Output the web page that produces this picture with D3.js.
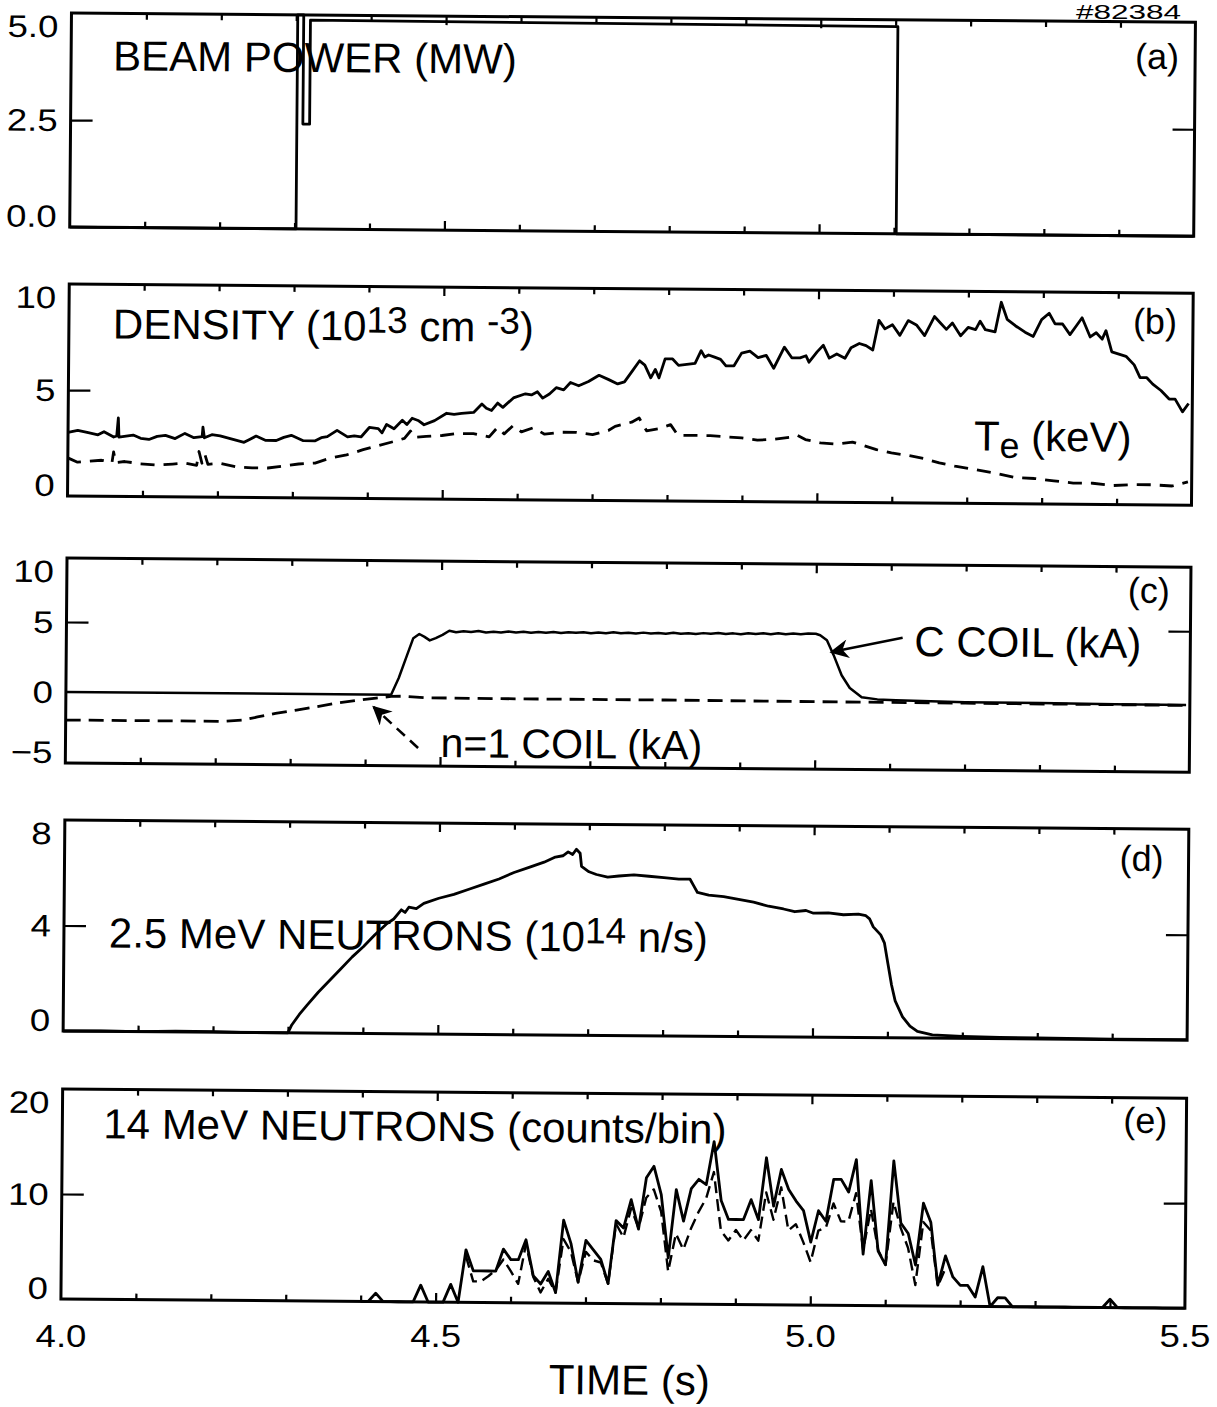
<!DOCTYPE html>
<html>
<head>
<meta charset="utf-8">
<script src="https://cdn.jsdelivr.net/npm/d3@7"></script>
<style>
  html, body { margin: 0; padding: 0; background: #fff; }
  svg { display: block; }
  text { font-family: "Liberation Sans", Arial, Helvetica, sans-serif; fill: #000; }
</style>
</head>
<body>
<svg id="chart" width="1217" height="1407"></svg>
<script>
// ---------------- shot #82384 time traces ----------------

// time axis
const timeTicks = [4.0, 4.5, 5.0, 5.5];
const timeTickLabels = ["4.0", "4.5", "5.0", "5.5"];

// (a) neutral beam power, MW (stepwise)
const beamTime  = [4.000, 4.302, 4.302, 4.310, 4.310, 4.319, 4.319, 5.103, 5.103, 5.500];
const beamPower = [0, 0, 5.0, 5.0, 2.45, 2.45, 4.88, 4.84, 0, 0];

// (b) line density, 1e13 cm^-3
const densityTime = [4.000,4.013,4.027,4.040,4.048,4.061,4.065,4.067,4.068,4.087,
  4.097,4.108,4.119,4.130,4.143,4.156,4.168,4.179,4.180,4.182,
  4.192,4.203,4.219,4.235,4.243,4.251,4.264,4.278,4.288,4.298,
  4.314,4.330,4.338,4.346,4.359,4.373,4.382,4.391,4.402,4.414,
  4.419,4.425,4.435,4.446,4.452,4.459,4.467,4.475,4.489,4.505,
  4.515,4.525,4.541,4.552,4.558,4.565,4.573,4.580,4.594,4.610,
  4.618,4.626,4.633,4.642,4.651,4.661,4.670,4.681,4.694,4.708,
  4.721,4.733,4.742,4.752,4.762,4.769,4.777,4.783,4.788,4.796,
  4.806,4.814,4.825,4.836,4.844,4.849,4.854,4.862,4.870,4.877,
  4.888,4.898,4.909,4.920,4.931,4.941,4.955,4.965,4.976,4.984,
  4.988,4.999,5.007,5.015,5.025,5.036,5.044,5.055,5.064,5.073,
  5.081,5.089,5.099,5.109,5.120,5.131,5.142,5.155,5.163,5.171,
  5.179,5.190,5.200,5.210,5.216,5.223,5.236,5.244,5.252,5.263,
  5.276,5.287,5.298,5.308,5.316,5.326,5.336,5.344,5.352,5.363,
  5.371,5.379,5.384,5.392,5.411,5.422,5.430,5.439,5.447,5.458,
  5.469,5.477,5.487,5.495];
const densityValue = [3.0,3.1,3.0,2.9,3.05,2.8,2.85,3.7,2.8,2.9,
  2.75,2.7,2.85,2.9,2.75,3.0,2.8,2.85,3.3,2.8,
  2.95,2.9,2.75,2.6,2.75,2.9,2.7,2.7,2.85,2.95,
  2.7,2.7,2.85,2.9,3.2,2.9,2.95,2.9,3.35,3.3,
  3.1,3.5,3.3,3.7,3.5,3.8,3.7,3.5,3.7,4.05,
  4.0,4.05,4.1,4.5,4.3,4.2,4.55,4.35,4.8,5.0,
  4.95,5.1,4.8,5.0,5.3,5.2,5.55,5.4,5.6,5.9,
  5.7,5.5,5.6,6.1,6.6,6.4,5.8,6.2,5.8,6.7,
  6.7,6.4,6.45,6.5,7.1,6.8,6.9,6.8,6.7,6.4,
  6.4,7.0,7.1,6.8,6.9,6.3,7.3,6.8,6.8,6.9,
  6.6,7.1,7.4,6.8,7.0,6.8,7.3,7.5,7.4,7.2,
  8.6,8.2,8.4,7.9,8.6,8.4,7.9,8.8,8.5,8.2,
  8.5,7.9,8.3,8.2,8.6,8.2,8.1,9.5,8.7,8.4,
  8.1,7.9,8.7,9.0,8.5,8.5,8.0,8.4,8.8,7.9,
  8.1,7.8,8.2,7.2,7.0,6.6,6.0,6.0,5.7,5.4,
  5.0,5.0,4.4,4.8];

// (b) electron temperature, keV
const teTime = [4.000,4.013,4.029,4.045,4.059,4.061,4.064,4.076,4.097,4.119,
  4.140,4.156,4.172,4.175,4.179,4.183,4.187,4.203,4.224,4.246,
  4.267,4.288,4.308,4.330,4.351,4.372,4.394,4.414,4.435,4.449,
  4.457,4.462,4.478,4.499,4.519,4.541,4.562,4.573,4.582,4.594,
  4.605,4.621,4.636,4.657,4.678,4.700,4.721,4.730,4.752,4.762,
  4.772,4.788,4.804,4.814,4.836,4.857,4.877,4.899,4.920,4.941,
  4.963,4.973,4.984,5.004,5.025,5.047,5.079,5.099,5.120,5.142,
  5.163,5.184,5.210,5.236,5.263,5.290,5.316,5.342,5.368,5.395,
  5.422,5.447,5.474,5.495];
const teValue = [1.8,1.6,1.65,1.7,1.6,2.1,1.6,1.65,1.55,1.5,
  1.55,1.6,1.5,2.15,1.6,2.0,1.55,1.6,1.45,1.4,
  1.4,1.5,1.6,1.65,1.9,2.05,2.3,2.5,2.7,2.85,
  3.2,2.9,2.95,3.0,3.1,3.1,2.95,3.4,3.1,3.5,
  3.2,3.4,3.1,3.2,3.2,3.1,3.3,3.5,3.7,3.9,
  3.3,3.4,3.6,3.1,3.1,3.1,3.05,3.0,2.9,2.95,
  3.05,3.15,2.95,2.8,2.75,2.85,2.5,2.35,2.25,2.1,
  1.9,1.75,1.6,1.45,1.25,1.2,1.1,1.0,1.0,0.9,
  0.95,0.95,0.9,1.1];

// (c) C-coil current, kA
const cCoilTime = [4.000,4.434,4.444,4.455,4.463,4.471,4.478,4.485,4.493,4.502,4.511,
  4.52,4.53,4.54,4.55,4.56,4.57,4.58,4.59,4.60,4.61,4.62,4.63,4.64,4.65,4.66,4.67,4.68,4.69,
  4.70,4.71,4.72,4.73,4.74,4.75,4.76,4.77,4.78,4.79,4.80,4.81,4.82,4.83,4.84,4.85,4.86,4.87,
  4.88,4.89,4.90,4.91,4.92,4.93,4.94,4.95,4.96,4.97,4.98,4.99,5.00,
  5.006,5.015,5.024,5.035,5.046,5.062,5.083,5.108,5.200,5.300,5.400,5.495];
const cCoilValue = [0,0,1.2,2.85,4.05,4.35,4.15,3.9,4.07,4.3,4.6,
  4.5,4.58,4.52,4.6,4.5,4.55,4.5,4.58,4.52,4.57,4.5,4.56,4.52,4.58,4.5,4.57,4.53,4.58,
  4.51,4.57,4.52,4.59,4.53,4.57,4.51,4.58,4.53,4.57,4.52,4.59,4.53,4.57,4.51,4.58,4.54,4.6,
  4.53,4.58,4.52,4.6,4.55,4.6,4.54,4.62,4.55,4.61,4.56,4.62,4.6,
  4.5,4.15,3.1,1.65,0.75,0.1,-0.05,-0.1,-0.2,-0.22,-0.25,-0.27];

// (c) n=1 coil current, kA
const n1CoilTime  = [4.000,4.210,4.237,4.256,4.280,4.308,4.335,4.362,4.390,4.414,4.434,4.450,4.480,4.600,4.800,5.000,5.200,5.495];
const n1CoilValue = [-2.0,-2.0,-1.9,-1.67,-1.4,-1.15,-0.9,-0.63,-0.42,-0.25,-0.12,-0.1,-0.2,-0.22,-0.22,-0.25,-0.27,-0.3];

// (d) 2.5 MeV neutron rate, 1e14 n/s
const dnTime = [4.00,4.05,4.10,4.15,4.20,4.25,4.30,
  4.305,4.315,4.325,4.34,4.355,4.37,4.385,4.40,4.415,4.43,4.44,4.45,4.455,4.46,4.47,4.48,
  4.50,4.52,4.54,4.56,4.58,4.60,4.62,4.64,4.655,4.665,4.672,4.678,4.683,4.688,
  4.69,4.70,4.71,4.725,4.74,4.76,4.78,4.80,4.82,4.835,4.84,4.845,4.86,4.88,4.90,4.92,
  4.94,4.96,4.975,4.99,5.00,5.02,5.04,5.06,5.07,5.075,5.08,5.09,5.095,5.10,5.105,5.11,
  5.12,5.13,5.14,5.16,5.20,5.25,5.30,5.40,5.50];
const dnValue = [0.0,0.02,0.0,0.03,0.02,0.0,0.0,
  0.3,0.7,1.05,1.55,2.0,2.45,2.9,3.3,3.75,4.15,4.35,4.7,4.6,4.8,4.75,4.95,
  5.15,5.3,5.5,5.7,5.9,6.15,6.35,6.55,6.75,6.8,6.95,6.85,7.05,6.9,
  6.4,6.2,6.1,6.0,6.05,6.1,6.05,6.0,5.95,5.95,5.7,5.45,5.35,5.3,5.2,5.1,
  4.95,4.85,4.75,4.8,4.7,4.72,4.65,4.68,4.62,4.5,4.2,3.9,3.6,2.8,2.0,1.4,
  0.8,0.45,0.25,0.12,0.08,0.05,0.04,0.02,0.02];

// (e) 14 MeV neutrons, counts per 10 ms bin
const binStart = 4.40;
const binWidth = 0.01;
const dtCountsSolid = [0,0,0.8,0,0,0,0,0,1.6,0,
  0,0,1.7,0,5.0,3.0,3.0,3.0,3.0,5.1,
  4.1,4.1,6.0,2.6,1.8,3.0,1.0,7.9,5.7,2.0,
  6.0,5.1,4.2,1.9,7.9,7.2,9.9,7.1,12.0,13.1,
  10.4,4.4,10.9,7.9,11.0,11.9,11.4,15.5,9.9,8.1,
  8.1,8.1,10.0,8.1,14.0,9.4,12.9,11.0,9.9,9.0,
  6.0,9.0,8.0,12.0,12.0,10.8,13.9,4.9,11.9,5.2,
  3.9,13.8,7.9,6.9,3.9,9.8,8.0,2.0,4.8,2.8,
  2.0,2.0,0.9,3.8,0,0.85,0.85,0,0,0,
  0,0,0,0,0,0,0,0,0,0,
  0.8,0,0,0,0,0,0,0,0,0,0];
const dashedFirstBin = 14;   // index into the bin grid (4.54 s)
const dtCountsDashed = [4.4,2.0,2.0,2.5,3.1,4.1,3.0,1.8,5.6,2.5,
  1.0,2.3,1.0,6.1,4.9,2.0,4.9,4.1,3.9,1.9,
  7.6,6.3,9.1,7.2,10.1,10.9,8.8,3.1,6.7,5.2,
  7.2,8.8,10.1,12.6,7.0,6.1,7.1,6.1,7.1,6.1,
  10.7,8.1,11.2,7.1,7.7,6.0,4.1,7.1,7.4,9.7,
  8.0,8.0,10.7,5.3,9.2,5.3,3.9,9.9,7.4,5.5,
  2.0,8.0,7.2,1.9,3.6];

// y tick values and their printed labels
const yTicksA = [0, 2.5, 5.0],  yLabelsA = ["0.0", "2.5", "5.0"];
const yTicksB = [0, 5, 10],     yLabelsB = ["0", "5", "10"];
const yTicksC = [-5, 0, 5, 10], yLabelsC = ["\u22125", "0", "5", "10"];
const yTicksD = [0, 4, 8],      yLabelsD = ["0", "4", "8"];
const yTicksE = [0, 10, 20],    yLabelsE = ["0", "10", "20"];

// ---------------- drawing ----------------
const W = 1217, H = 1407;
const X0 = 61, X1 = 1185;
const TILT = 0.47;             // the figure sits slightly skewed on the page
const svg = d3.select("#chart");
svg.append("rect").attr("width", W).attr("height", H).attr("fill", "#fff");

const root = svg.append("g").attr("transform", `rotate(${TILT} 61 1290)`);

const x = d3.scaleLinear().domain([4.0, 5.5]).range([X0, X1]);
const minorTimes = d3.range(4.1, 5.45, 0.1).filter(t => Math.abs(t - 4.5) > 1e-6 && Math.abs(t - 5.0) > 1e-6);
const halfTimes = [4.5, 5.0];

const defs = svg.append("defs");
defs.append("marker")
  .attr("id", "head")
  .attr("viewBox", "0 0 10 10")
  .attr("refX", 9).attr("refY", 5)
  .attr("markerWidth", 26).attr("markerHeight", 19)
  .attr("markerUnits", "userSpaceOnUse")
  .attr("orient", "auto")
  .append("path").attr("d", "M0,0 L10,5 L0,10 L3,5 Z").attr("fill", "#000");

// tick labels in the plotter's wide digit face
const LABEL_SIZE = 31, LABEL_STRETCH = 1.18;
function wideLabel(g, txt, px, py, anchor, size = LABEL_SIZE, stretch = LABEL_STRETCH) {
  g.append("text")
    .attr("transform", `translate(${px},${py}) scale(${stretch},1)`)
    .attr("text-anchor", anchor)
    .attr("font-size", size)
    .text(txt);
}

function panel(top, bottom, domain, ticks, labels, tickAt, rightTick) {
  const y = d3.scaleLinear().domain(domain).range([bottom, top]);
  const g = root.append("g");

  const strip = s => s.call(a => a.select(".domain").remove())
                      .call(a => a.selectAll("line").attr("stroke-width", 2.2));
  g.append("g").attr("transform", `translate(0,${bottom})`)
    .call(d3.axisBottom(x).tickValues(minorTimes).tickSize(-6).tickFormat("")).call(strip);
  g.append("g").attr("transform", `translate(0,${bottom})`)
    .call(d3.axisBottom(x).tickValues(halfTimes).tickSize(-9).tickFormat("")).call(strip);
  g.append("g").attr("transform", `translate(0,${top})`)
    .call(d3.axisTop(x).tickValues(minorTimes).tickSize(-6).tickFormat("")).call(strip);
  g.append("g").attr("transform", `translate(0,${top})`)
    .call(d3.axisTop(x).tickValues(halfTimes).tickSize(-9).tickFormat("")).call(strip);

  g.append("g").attr("transform", `translate(${X0},0)`)
    .call(d3.axisLeft(y).tickValues([tickAt]).tickSize(-22).tickFormat("")).call(strip);
  if (rightTick) {
    g.append("g").attr("transform", `translate(${X1},0)`)
      .call(d3.axisRight(y).tickValues([tickAt]).tickSize(-22).tickFormat("")).call(strip);
  }

  g.append("rect")
    .attr("x", X0).attr("y", top)
    .attr("width", X1 - X0).attr("height", bottom - top)
    .attr("fill", "none").attr("stroke", "#000").attr("stroke-width", 3);

  const half = 0.716 * LABEL_SIZE / 2;
  ticks.forEach((v, i) => {
    const cy = Math.max(top + half + 2, Math.min(bottom - half, y(v)));
    wideLabel(g, labels[i], 48, cy + half, "end");
  });
  return { g, y };
}

function trace(p, ts, vs, opts = {}) {
  const line = d3.line().x(d => x(d[0])).y(d => p.y(d[1]));
  p.g.append("path")
    .datum(d3.zip(ts, vs))
    .attr("d", line)
    .attr("fill", "none")
    .attr("stroke", "#000")
    .attr("stroke-width", opts.width || 2.8)
    .attr("stroke-linejoin", "round")
    .attr("stroke-dasharray", opts.dash || null);
}

function title(p, px, py, parts, size = 42) {
  const t = p.g.append("text").attr("x", px).attr("y", py).attr("font-size", size);
  parts.forEach(([s, kind]) => {
    const sp = t.append("tspan").text(s);
    if (kind === "sup") sp.attr("font-size", size * 0.88).attr("dy", -8);
    if (kind === "after-sup") sp.attr("dy", 8);
    if (kind === "sub") sp.attr("font-size", size * 0.85).attr("dy", 7);
    if (kind === "after-sub") sp.attr("dy", -7);
  });
}

function tag(p, txt, px, py) {
  p.g.append("text").attr("x", px).attr("y", py)
    .attr("text-anchor", "end").attr("font-size", 36).text(txt);
}

// ---- (a) beam power
const pa = panel(13, 227, [0, 5], yTicksA, yLabelsA, 2.5, true);
trace(pa, beamTime, beamPower);
title(pa, 103, 70, [["BEAM POWER (MW)"]]);
tag(pa, "(a)", 1169, 60);

// ---- (b) density and Te
const pb = panel(284, 496, [0, 10], yTicksB, yLabelsB, 5, false);
trace(pb, densityTime, densityValue);
trace(pb, teTime, teValue, { dash: "14,9" });
title(pb, 105, 338, [["DENSITY (10"], ["13", "sup"], [" cm ", "after-sup"], ["-3", "sup"], [")", "after-sup"]]);
title(pb, 967, 443, [["T"], ["e", "sub"], [" (keV)", "after-sub"]]);
tag(pb, "(b)", 1169, 325);

// ---- (c) coil currents
const pc = panel(558, 763, [-5.07, 9.57], yTicksC, yLabelsC, 5, true);
trace(pc, cCoilTime, cCoilValue, { width: 2.5 });
trace(pc, n1CoilTime, n1CoilValue, { dash: "15,8" });
title(pc, 909, 649, [["C COIL (kA)"]]);
title(pc, 436, 754, [["n=1 COIL (kA)"]], 41);
tag(pc, "(c)", 1164, 594);

const cArrow  = [[5.116, 4.36], [5.021, 3.3]];
const n1Arrow = [[4.4706, -3.79], [4.4108, -0.89]];
pc.g.append("line")
  .attr("x1", x(cArrow[0][0])).attr("y1", pc.y(cArrow[0][1]))
  .attr("x2", x(cArrow[1][0])).attr("y2", pc.y(cArrow[1][1]))
  .attr("stroke", "#000").attr("stroke-width", 2.6).attr("marker-end", "url(#head)");
pc.g.append("line")
  .attr("x1", x(n1Arrow[0][0])).attr("y1", pc.y(n1Arrow[0][1]))
  .attr("x2", x(n1Arrow[1][0])).attr("y2", pc.y(n1Arrow[1][1]))
  .attr("stroke", "#000").attr("stroke-width", 2.6).attr("stroke-dasharray", "11,7")
  .attr("marker-end", "url(#head)");

// ---- (d) 2.5 MeV neutrons
const pd = panel(820, 1031, [0, 8], yTicksD, yLabelsD, 4, true);
trace(pd, dnTime, dnValue);
title(pd, 106, 947, [["2.5 MeV NEUTRONS (10"], ["14", "sup"], [" n/s)", "after-sup"]]);
tag(pd, "(d)", 1160, 862);

// ---- (e) 14 MeV neutrons
const pe = panel(1089, 1299, [0, 20], yTicksE, yLabelsE, 10, true);
const solidTimes  = dtCountsSolid.map((_, i) => binStart + i * binWidth);
const dashedTimes = dtCountsDashed.map((_, i) => binStart + (dashedFirstBin + i) * binWidth);
trace(pe, solidTimes, dtCountsSolid);
trace(pe, dashedTimes, dtCountsDashed, { width: 2.4, dash: "12,6" });
title(pe, 102, 1138, [["14 MeV NEUTRONS (counts/bin)"]]);
tag(pe, "(e)", 1166, 1124);

// ---- time axis labels (printed level under the frame), axis title, shot number
timeTicks.forEach((t, i) => wideLabel(svg, timeTickLabels[i], x(t), 1347, "middle"));
root.append("text").attr("x", 630).attr("y", 1390)
  .attr("text-anchor", "middle").attr("font-size", 42).text("TIME (s)");
wideLabel(svg, "#82384", 1181, 19, "end", 21, 1.5);
</script>
</body>
</html>
